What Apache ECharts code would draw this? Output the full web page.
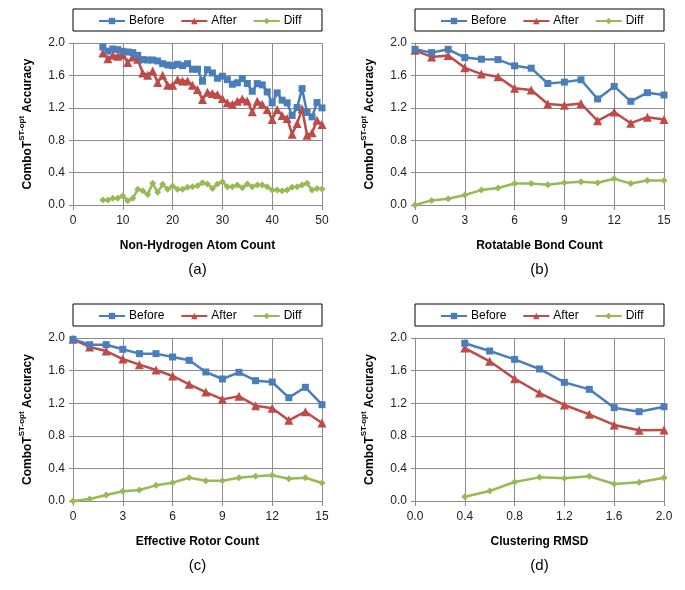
<!DOCTYPE html>
<html><head><meta charset="utf-8">
<script src="https://cdn.jsdelivr.net/npm/echarts@6/dist/echarts.min.js"></script>
<style>html,body{margin:0;padding:0;background:#fff}#c{width:685px;height:590px}</style>
</head><body><div id="c"></div>
<script>
const seriesNames = ['Before', 'After', 'Diff'];

// (a) Non-Hydrogen Atom Count
const atomX = [6,7,8,9,10,11,12,13,14,15,16,17,18,19,20,21,22,23,24,25,26,27,28,29,30,31,32,33,34,35,36,37,38,39,40,41,42,43,44,45,46,47,48,49,50];
const atomBefore = [1.95,1.90,1.926,1.918,1.897,1.889,1.881,1.848,1.795,1.79,1.79,1.778,1.745,1.729,1.721,1.737,1.721,1.745,1.676,1.676,1.528,1.67,1.63,1.565,1.59,1.548,1.491,1.509,1.561,1.50,1.404,1.499,1.483,1.396,1.261,1.384,1.294,1.261,1.105,1.203,1.437,1.142,1.088,1.265,1.199];
const atomAfter = [1.877,1.807,1.848,1.836,1.856,1.758,1.828,1.799,1.63,1.602,1.655,1.511,1.602,1.478,1.478,1.548,1.532,1.532,1.478,1.425,1.302,1.392,1.376,1.363,1.314,1.261,1.244,1.281,1.31,1.285,1.15,1.281,1.244,1.179,1.055,1.179,1.105,1.068,0.875,1.006,1.187,0.862,0.891,1.047,0.994];
const atomDiff = [0.062,0.062,0.082,0.082,0.115,0.053,0.082,0.193,0.177,0.131,0.267,0.156,0.255,0.193,0.234,0.193,0.193,0.218,0.226,0.238,0.275,0.259,0.205,0.259,0.287,0.226,0.226,0.246,0.214,0.259,0.226,0.246,0.246,0.226,0.185,0.185,0.177,0.185,0.218,0.226,0.246,0.267,0.185,0.205,0.197];

// (b) Rotatable Bond Count
const bondX = [0,1,2,3,4,5,6,7,8,9,10,11,12,13,14,15];
const bondBefore = [1.922,1.881,1.922,1.82,1.80,1.795,1.718,1.689,1.50,1.517,1.546,1.309,1.464,1.28,1.387,1.358];
const bondAfter = [1.91,1.828,1.845,1.693,1.616,1.583,1.44,1.419,1.247,1.231,1.252,1.039,1.149,1.01,1.084,1.055];
const bondDiff = [0.0,0.057,0.078,0.123,0.184,0.209,0.266,0.266,0.249,0.274,0.286,0.274,0.323,0.266,0.303,0.303];

// (c) Effective Rotor Count
const rotorX = [0,1,2,3,4,5,6,7,8,9,10,11,12,13,14,15];
const rotorBefore = [1.984,1.918,1.918,1.861,1.808,1.808,1.767,1.726,1.583,1.497,1.579,1.476,1.46,1.268,1.395,1.182];
const rotorAfter = [1.984,1.89,1.84,1.742,1.673,1.607,1.534,1.431,1.337,1.247,1.284,1.17,1.137,0.99,1.096,0.957];
const rotorDiff = [0.0,0.025,0.074,0.119,0.135,0.192,0.225,0.286,0.249,0.249,0.286,0.303,0.315,0.274,0.286,0.221];

// (d) Clustering RMSD
const rmsdX = [0.4,0.6,0.8,1.0,1.2,1.4,1.6,1.8,2.0];
const rmsdBefore = [1.935,1.84,1.738,1.62,1.456,1.37,1.145,1.096,1.157];
const rmsdAfter = [1.877,1.714,1.501,1.325,1.178,1.063,0.933,0.867,0.871];
const rmsdDiff = [0.053,0.123,0.233,0.29,0.278,0.303,0.209,0.229,0.286];

const yTicks = [0.0, 0.4, 0.8, 1.2, 1.6, 2.0];
const xTitles = ['Non-Hydrogen Atom Count', 'Rotatable Bond Count', 'Effective Rotor Count', 'Clustering RMSD'];
const panelLabels = ['(a)', '(b)', '(c)', '(d)'];
const xRanges = [[0, 50, 10, 0], [0, 15, 3, 0], [0, 15, 3, 0], [0, 2.0, 0.4, 1]];

const panels = [
  {x: atomX, ys: [atomBefore, atomAfter, atomDiff]},
  {x: bondX, ys: [bondBefore, bondAfter, bondDiff]},
  {x: rotorX, ys: [rotorBefore, rotorAfter, rotorDiff]},
  {x: rmsdX, ys: [rmsdBefore, rmsdAfter, rmsdDiff]}
];

const colors = ['#4A7EBB', '#BE4B48', '#98B954'];
const symbols = ['rect', 'triangle', 'diamond'];
const symSizes = [7, 9, 7];

const FONT = 'Liberation Sans';
const grids = [
  {left: 73, top: 43, width: 249, height: 162},
  {left: 415, top: 43, width: 249, height: 162},
  {left: 73, top: 338, width: 249, height: 163},
  {left: 415, top: 338, width: 249, height: 163}
];
const gridColor = '#8C8C8C';

const xAxes = [], yAxes = [], series = [], legends = [], graphics = [];
panels.forEach((p, i) => {
  const r = xRanges[i];
  xAxes.push({
    gridIndex: i, type: 'value', min: r[0], max: r[1], interval: r[2],
    name: xTitles[i], nameLocation: 'middle', nameGap: 35,
    nameTextStyle: {fontFamily: FONT, fontWeight: 'bold', fontSize: 12, color: '#000'},
    axisLine: {lineStyle: {color: gridColor, width: 1}},
    axisTick: {show: true, length: 5, lineStyle: {color: gridColor}},
    axisLabel: {fontFamily: FONT, fontSize: 12, color: '#222', margin: 10,
      formatter: v => r[3] ? v.toFixed(r[3]) : String(v)},
    splitLine: {show: true, lineStyle: {color: gridColor, width: 1}}
  });
  yAxes.push({
    gridIndex: i, type: 'value', min: 0, max: 2.0, interval: 0.4,
    name: '{b|ComboT}{s|ST-opt}{b| Accuracy}', nameLocation: 'middle', nameGap: 39, nameRotate: 90,
    nameTextStyle: {rich: {
      b: {fontFamily: FONT, fontWeight: 'bold', fontSize: 12, color: '#000', lineHeight: 16, verticalAlign: 'bottom'},
      s: {fontFamily: FONT, fontWeight: 'bold', fontSize: 8, color: '#000', lineHeight: 16, verticalAlign: 'top', padding: [0,0,6,0]}
    }},
    axisLine: {show: true, lineStyle: {color: gridColor, width: 1}},
    axisTick: {show: true, length: 4, lineStyle: {color: gridColor}},
    axisLabel: {fontFamily: FONT, fontSize: 12, color: '#222', margin: 8, formatter: v => v.toFixed(1)},
    splitLine: {show: true, lineStyle: {color: gridColor, width: 1}}
  });
  p.ys.forEach((ys, k) => {
    series.push({
      name: seriesNames[k], type: 'line', xAxisIndex: i, yAxisIndex: i,
      data: p.x.map((xv, j) => [xv, ys[j]]),
      symbol: symbols[k], symbolSize: symSizes[k], showSymbol: true,
      lineStyle: {color: colors[k], width: 2.5},
      itemStyle: {color: colors[k]},
      animation: false, z: 3 + (2 - k)
    });
  });
  const g = grids[i];
  graphics.push({type: 'rect', shape: {x: g.left, y: g.top - 34, width: g.width, height: 22},
    style: {fill: 'none', stroke: '#000', lineWidth: 1}, silent: true});
  graphics.push({type: 'text', x: g.left + g.width / 2, y: g.top + g.height + 65,
    style: {text: panelLabels[i], font: '15px ' + FONT, fill: '#000', textAlign: 'center', textVerticalAlign: 'middle'}});
  legends.push({
    data: seriesNames, left: g.left + 25, top: g.top - 28, padding: 0,
    itemWidth: 26, itemHeight: 8, itemGap: 16,
    textStyle: {fontFamily: FONT, fontSize: 12, color: '#000', padding: [0, 0, 0, -1]}
  });
});

const chart = echarts.init(document.getElementById('c'), null, {renderer: 'canvas'});
chart.setOption({
  backgroundColor: '#fff',
  animation: false,
  grid: grids,
  xAxis: xAxes,
  yAxis: yAxes,
  legend: legends,
  series: series,
  graphic: graphics
});
</script></body></html>
